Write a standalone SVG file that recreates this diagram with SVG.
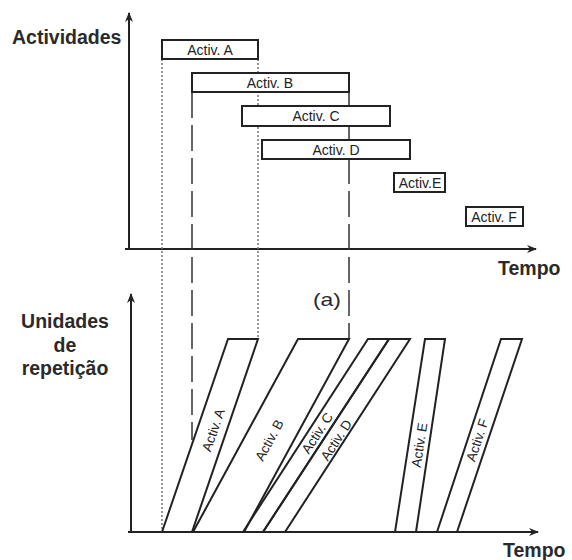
<svg xmlns="http://www.w3.org/2000/svg" width="572" height="560" viewBox="0 0 572 560">
<defs>
<marker id="arr" viewBox="0 0 10 10" refX="9" refY="5" markerWidth="10" markerHeight="10" markerUnits="userSpaceOnUse" orient="auto">
<path d="M0,1 L10,5 L0,9 L3,5 Z" fill="#222"/>
</marker>
<style>
.ax{stroke:#222;stroke-width:2;fill:none}
.box{fill:#fff;stroke:#222;stroke-width:2}
.par{fill:none;stroke:#222;stroke-width:2;stroke-linejoin:miter}
.dot{stroke:#777;stroke-width:1.5;stroke-dasharray:2 2;fill:none}
.dash{stroke:#333;stroke-width:1.5;stroke-dasharray:26 7;fill:none}
.big{font-family:"Liberation Sans",Arial,sans-serif;font-size:19.5px;font-weight:bold;fill:#2a2a2a}
.lbl{font-family:"Liberation Sans",Arial,sans-serif;font-size:14px;fill:#222;text-anchor:middle}
.rl{font-family:"Liberation Sans",Arial,sans-serif;font-size:13.5px;fill:#222;text-anchor:middle}
</style>
</defs>
<rect width="572" height="560" fill="#fff"/>

<g id="axes">
<line class="ax" x1="129" y1="249" x2="129" y2="13" marker-end="url(#arr)"/>
<line class="ax" x1="125" y1="249" x2="536" y2="249" marker-end="url(#arr)"/>
<line class="ax" x1="131" y1="532" x2="131" y2="294" marker-end="url(#arr)"/>
<line class="ax" x1="128" y1="532" x2="538" y2="532" marker-end="url(#arr)"/>
</g>

<g id="connectors">
<line class="dot" x1="162" y1="59" x2="162" y2="532"/>
<line class="dot" x1="258" y1="59" x2="258" y2="339"/>
<line class="dash" x1="192" y1="92" x2="192" y2="440"/>
<line class="dash" x1="349" y1="92" x2="349" y2="339"/>
</g>

<g id="axis-labels">
<text class="big" x="12" y="44">Actividades</text>
<text class="big" x="498" y="275">Tempo</text>
<text class="big" x="503" y="557">Tempo</text>
<text class="big" x="65" y="328" text-anchor="middle">Unidades</text>
<text class="big" x="65" y="352" text-anchor="middle">de</text>
<text class="big" x="65" y="375" text-anchor="middle">repetição</text>
<text x="313" y="306" font-family="Liberation Sans, Arial, sans-serif" font-size="19" fill="#2a2a2a" textLength="28" lengthAdjust="spacingAndGlyphs">(a)</text>
</g>

<g id="bar-a"><rect class="box" x="162" y="40" width="96" height="19"/><text class="lbl" x="210" y="55">Activ. A</text></g>
<g id="bar-b"><rect class="box" x="192" y="73" width="157" height="19"/><text class="lbl" x="270" y="88">Activ. B</text></g>
<g id="bar-c"><rect class="box" x="242" y="106" width="148" height="20"/><text class="lbl" x="316" y="121">Activ. C</text></g>
<g id="bar-d"><rect class="box" x="262" y="140" width="148" height="19"/><text class="lbl" x="336" y="155">Activ. D</text></g>
<g id="bar-e"><rect class="box" x="394" y="173" width="51" height="19"/><text class="lbl" x="420" y="188" font-size="14.5">Activ.E</text></g>
<g id="bar-f"><rect class="box" x="466" y="207" width="57" height="19"/><text class="lbl" x="494" y="222">Activ. F</text></g>

<g id="line-a"><path class="par" d="M162,532 L228,339 L258,339 L192,532"/><text class="rl" transform="translate(213,430) rotate(-71.1)" dy="5">Activ. A</text></g>
<g id="line-b"><path class="par" d="M193,532 L298,339 L349,339 L244,532"/><text class="rl" transform="translate(269,440) rotate(-61.5)" dy="5">Activ. B</text></g>
<g id="line-c"><path class="par" d="M243,532 L368,339 L389,339 L263,532"/><text class="rl" transform="translate(317,433) rotate(-57.1)" dy="5">Activ. C</text></g>
<g id="line-d"><path class="par" d="M263,532 L389,339 L410,339 L285,532"/><text class="rl" transform="translate(336,440) rotate(-57)" dy="5">Activ. D</text></g>
<g id="line-e"><path class="par" d="M395,532 L425,339 L445,339 L416,532"/><text class="rl" transform="translate(419,445) rotate(-81.2)" dy="5">Activ. E</text></g>
<g id="line-f"><path class="par" d="M437,532 L501,339 L522,339 L457,532"/><text class="rl" transform="translate(477,440) rotate(-71.7)" dy="5">Activ. F</text></g>
</svg>
